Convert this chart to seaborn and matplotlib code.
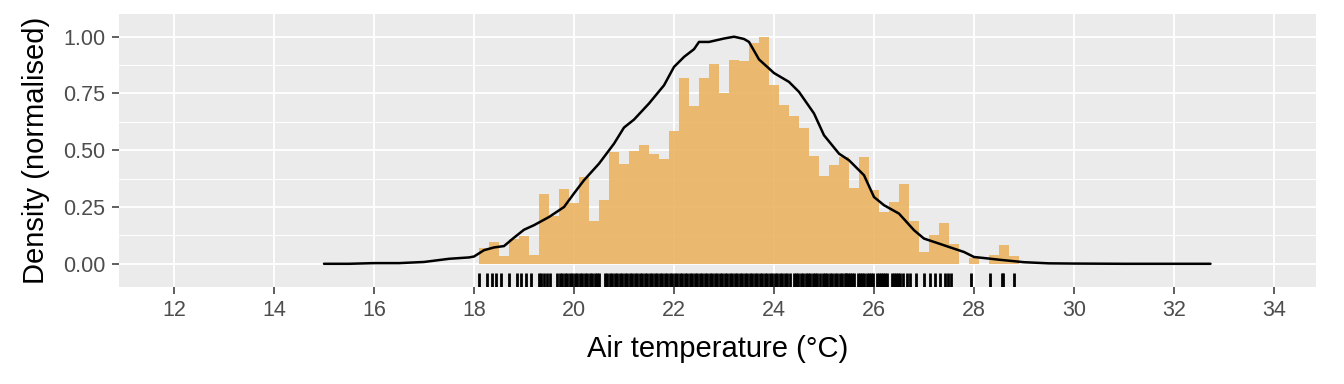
import numpy as np
import matplotlib
matplotlib.use("Agg")
import matplotlib.pyplot as plt
import seaborn as sns
from matplotlib.ticker import MultipleLocator, FormatStrFormatter

# histogram bars (count / max count), 0.2 degC bins starting at 18.1
bin_width = 0.2
bin_first = 18.1
hist_heights = [
    0.068, 0.094, 0.033, 0.107, 0.121, 0.037, 0.306, 0.209, 0.328, 0.267,
    0.381, 0.187, 0.280, 0.491, 0.438, 0.496, 0.522, 0.482, 0.460, 0.584,
    0.817, 0.694, 0.817, 0.879, 0.753, 0.896, 0.893, 0.973, 1.000, 0.788,
    0.700, 0.650, 0.598, 0.475, 0.387, 0.434, 0.470, 0.334, 0.470, 0.324,
    0.228, 0.272, 0.350, 0.187, 0.052, 0.126, 0.180, 0.086, 0.000, 0.026,
    0.000, 0.037, 0.081, 0.033,
]

# normalised density curve
dens_temp = [
    15.0, 15.5, 16.0, 16.5, 17.0, 17.5, 17.9, 18.0, 18.2, 18.4, 18.6, 18.8,
    19.0, 19.2, 19.5, 19.8, 20.0, 20.2, 20.5, 20.8, 21.0, 21.2, 21.5, 21.8,
    22.0, 22.2, 22.4, 22.5, 22.7, 23.0, 23.2, 23.4, 23.5, 23.7, 24.0, 24.3,
    24.5, 24.8, 25.0, 25.3, 25.5, 25.8, 26.0, 26.2, 26.5, 26.8, 27.0, 27.3,
    27.5, 27.8, 28.0, 28.3, 28.5, 29.0, 29.5, 30.0, 31.0, 32.0, 32.73,
]
dens_value = [
    0.000, 0.000, 0.003, 0.003, 0.008, 0.022, 0.028, 0.032, 0.060, 0.072, 0.078, 0.115,
    0.150, 0.170, 0.206, 0.250, 0.310, 0.368, 0.441, 0.529, 0.600, 0.635, 0.706, 0.786,
    0.867, 0.911, 0.945, 0.977, 0.977, 0.992, 1.000, 0.990, 0.977, 0.900, 0.840, 0.801,
    0.757, 0.662, 0.566, 0.485, 0.456, 0.390, 0.294, 0.258, 0.221, 0.148, 0.111, 0.089,
    0.074, 0.052, 0.030, 0.023, 0.018, 0.007, 0.002, 0.001, 0.000, 0.000, 0.000,
]

# observations shown as rug
rug_temp = [
    18.10, 18.27, 18.37, 18.45, 18.55, 18.71, 18.87, 18.95, 19.04, 19.14,
    19.31, 19.35, 19.40, 19.47, 19.52, 19.67, 19.72, 19.77, 19.82, 19.87,
    19.92, 19.97, 20.02, 20.07, 20.12, 20.17, 20.22, 20.27, 20.32, 20.37,
    20.42, 20.47, 20.50,
    20.62, 20.67, 20.72, 20.77, 20.82, 20.87, 20.92, 20.97, 21.02, 21.07,
    21.12, 21.17, 21.22, 21.27, 21.32, 21.37, 21.42, 21.47, 21.52, 21.57,
    21.62, 21.67, 21.72, 21.77, 21.82, 21.87, 21.92, 21.97, 22.02, 22.07,
    22.12, 22.17, 22.22, 22.27, 22.32, 22.37, 22.42, 22.47, 22.52, 22.57,
    22.62, 22.67, 22.72, 22.77, 22.82, 22.87, 22.92, 22.97, 23.02, 23.07,
    23.12, 23.17, 23.22, 23.27, 23.32, 23.37, 23.42, 23.47, 23.52, 23.57,
    23.62, 23.67, 23.72, 23.77, 23.82, 23.87, 23.92, 23.97, 24.02, 24.07,
    24.12, 24.17, 24.22, 24.27, 24.32,
    24.40, 24.45, 24.49, 24.54, 24.59, 24.64, 24.68, 24.72, 24.79, 24.83,
    24.87, 24.92, 24.99, 25.03, 25.07, 25.12, 25.17, 25.22, 25.27, 25.32,
    25.37, 25.42, 25.45, 25.49, 25.52, 25.56, 25.60, 25.68, 25.72, 25.76,
    25.80, 25.87, 25.91, 25.95, 25.98, 26.06, 26.10, 26.14, 26.18, 26.23,
    26.26, 26.36, 26.40, 26.44, 26.48, 26.53, 26.58, 26.67, 26.72, 26.84,
    27.01, 27.12, 27.22, 27.32, 27.43, 27.48, 27.55, 27.94, 28.32, 28.56,
    28.58, 28.81,
]

sns.set_theme(style="darkgrid", rc={
    "axes.facecolor": "#EBEBEB",
    "grid.color": "white",
    "xtick.bottom": True,
    "ytick.left": True,
    "xtick.color": "#333333",
    "ytick.color": "#333333",
    "xtick.labelcolor": "#4D4D4D",
    "ytick.labelcolor": "#4D4D4D",
})
plt.rcParams["font.family"] = ["Liberation Sans", "DejaVu Sans"]

fig = plt.figure(figsize=(13.44, 3.84), dpi=100)
ax = fig.add_axes([119 / 1344, 1 - 286.5 / 384, (1316 - 119) / 1344, (286.5 - 14) / 384])

n_bins = len(hist_heights)
bin_mid = bin_first + bin_width * (np.arange(n_bins) + 0.5)
sns.histplot(x=bin_mid, weights=hist_heights, binwidth=bin_width,
             binrange=(bin_first, bin_first + bin_width * n_bins),
             color="#ECB362", alpha=0.9, edgecolor="none", linewidth=0, ax=ax)

sns.lineplot(x=dens_temp, y=dens_value, color="black", linewidth=1.8,
             sort=False, estimator=None, ax=ax)

sns.rugplot(x=rug_temp, height=0.048, color="black", linewidth=2.0, ax=ax)

ax.set_xlim(10.9, 34.84)
ax.set_ylim(-0.1, 1.1)
ax.xaxis.set_major_locator(MultipleLocator(2))
ax.yaxis.set_major_locator(MultipleLocator(0.25))
ax.yaxis.set_minor_locator(MultipleLocator(0.125))
ax.yaxis.set_major_formatter(FormatStrFormatter("%.2f"))
ax.grid(which="major", color="white", linewidth=1.3)
ax.grid(which="minor", axis="y", color="white", linewidth=0.7)
ax.grid(which="minor", axis="x", visible=False)
ax.set_axisbelow(True)
for s in ax.spines.values():
    s.set_visible(False)

ax.tick_params(axis="both", which="major", length=5, width=1.1, labelsize=15.5, pad=5)
ax.tick_params(axis="both", which="minor", length=0)

ax.set_xlabel("Air temperature (°C)", fontsize=21, color="black", labelpad=10)
ax.set_ylabel("Density (normalised)", fontsize=21, color="black", labelpad=9)

fig.savefig("out.png", dpi=100)
